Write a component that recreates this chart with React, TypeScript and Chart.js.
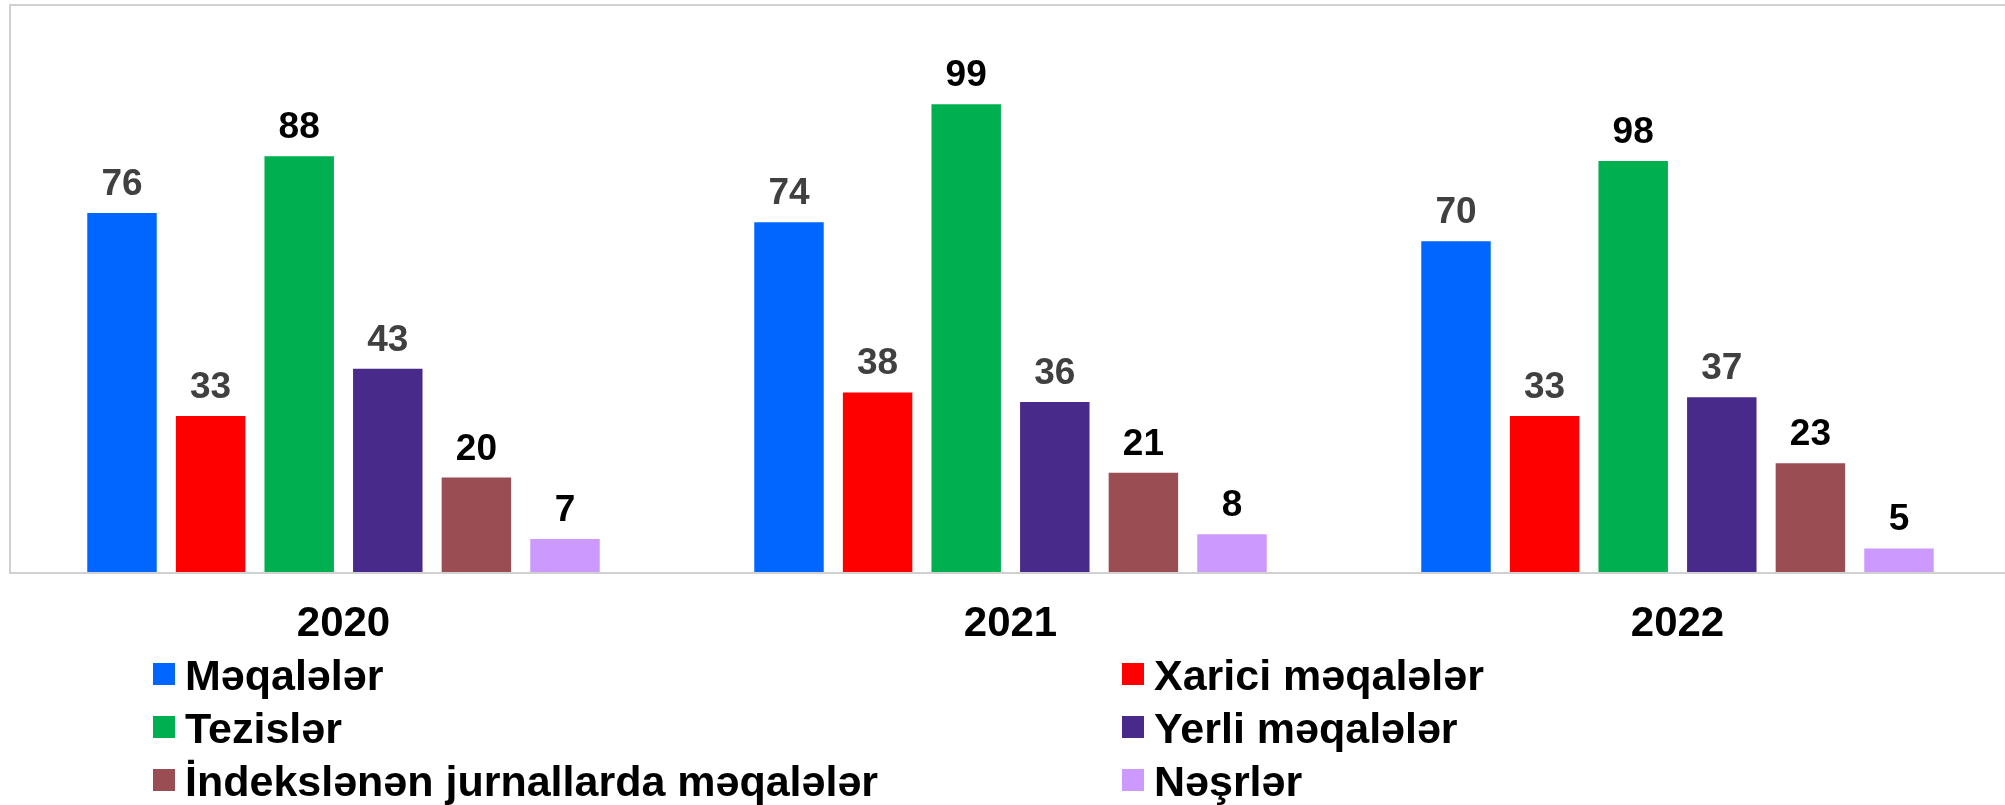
import React, { useEffect, useRef } from "react";
import { Chart, registerables } from "chart.js";

Chart.register(...registerables);

// ---- data ----
const years = ["2020", "2021", "2022"];
const seriesNames = [
  "Məqalələr",
  "Xarici məqalələr",
  "Tezislər",
  "Yerli məqalələr",
  "İndekslənən jurnallarda məqalələr",
  "Nəşrlər",
];
const meqaleler = [76, 74, 70];
const xariciMeqaleler = [33, 38, 33];
const tezisler = [88, 99, 87]; // bar heights as drawn in the picture
const tezislerShown = ["88", "99", "98"]; // value labels as printed in the picture
const yerliMeqaleler = [43, 36, 37];
const indekslenen = [20, 21, 23];
const nesrler = [7, 8, 5];
const yMin = 0;
const yMax = 120;

// ---- styles ----
const barColors = ["#0066FF", "#FF0000", "#00B050", "#472A8A", "#9A4D52", "#CC99FF"];
const labelColors = ["#404040", "#404040", "#000000", "#404040", "#000000", "#000000"];
const FONT = "'Liberation Sans', Arial, Helvetica, sans-serif";

const CANVAS_W = 2020;
const CANVAS_H = 805;

const framePlugin = {
  id: "frame",
  beforeDatasetsDraw(chart: any) {
    const { ctx, chartArea } = chart;
    ctx.save();
    ctx.strokeStyle = "#D0D0D0";
    ctx.lineWidth = 2;
    ctx.strokeRect(chartArea.left, chartArea.top, chartArea.right - chartArea.left, chartArea.bottom - chartArea.top + 1);
    ctx.restore();
  },
};

const valueLabelPlugin = {
  id: "valueLabels",
  afterDatasetsDraw(chart: any) {
    const { ctx } = chart;
    ctx.save();
    ctx.font = `bold 37px ${FONT}`;
    ctx.textAlign = "center";
    ctx.textBaseline = "alphabetic";
    chart.data.datasets.forEach((ds: any, i: number) => {
      const meta = chart.getDatasetMeta(i);
      meta.data.forEach((bar: any, j: number) => {
        const txt = ds.shownLabels ? ds.shownLabels[j] : String(ds.data[j]);
        ctx.fillStyle = ds.labelColor;
        ctx.fillText(txt, bar.x, bar.y - 18);
      });
    });
    ctx.restore();
  },
};

const legendPlugin = {
  id: "customLegend",
  afterDraw(chart: any) {
    const { ctx } = chart;
    const colX = [153, 1122];
    const rowTop = [663, 716, 769];
    ctx.save();
    ctx.font = `bold 43px ${FONT}`;
    ctx.textAlign = "left";
    ctx.textBaseline = "alphabetic";
    chart.data.datasets.forEach((ds: any, i: number) => {
      const x = colX[i % 2];
      const y = rowTop[Math.floor(i / 2)];
      ctx.fillStyle = ds.backgroundColor;
      ctx.fillRect(x, y, 22, 22);
      ctx.fillStyle = "#000000";
      ctx.fillText(ds.label, x + 32, y + 27);
    });
    ctx.restore();
  },
};

export default function App() {
  const canvasRef = useRef<HTMLCanvasElement | null>(null);

  useEffect(() => {
    if (!canvasRef.current) return;
    const seriesValues = [meqaleler, xariciMeqaleler, tezisler, yerliMeqaleler, indekslenen, nesrler];
    const datasets = seriesNames.map((name, i) => ({
      label: name,
      data: seriesValues[i],
      backgroundColor: barColors[i],
      borderWidth: 0,
      labelColor: labelColors[i],
      shownLabels: i === 2 ? tezislerShown : undefined,
    }));

    const chart = new Chart(canvasRef.current, {
      type: "bar",
      data: { labels: years, datasets: datasets as any },
      options: {
        animation: false,
        responsive: false,
        maintainAspectRatio: false,
        devicePixelRatio: 1,
        layout: { padding: { left: 10, right: CANVAS_W - 2011, top: 5, bottom: 0 } },
        datasets: {
          bar: { categoryPercentage: 0.797, barPercentage: 0.784 },
        },
        plugins: {
          legend: { display: false },
          tooltip: { enabled: false },
          title: { display: false },
        },
        scales: {
          x: {
            grid: { display: false, drawTicks: false },
            border: { display: false },
            ticks: {
              color: "#000000",
              padding: 27,
              font: { family: FONT, size: 42, weight: "bold" },
            },
            afterFit(scale: any) {
              scale.height = CANVAS_H - 572;
            },
          },
          y: {
            display: false,
            min: yMin,
            max: yMax,
          },
        },
      } as any,
      plugins: [framePlugin, valueLabelPlugin, legendPlugin],
    });
    return () => chart.destroy();
  }, []);

  return (
    <div
      style={{
        position: "absolute",
        left: 0,
        top: 0,
        width: 2005,
        height: 805,
        overflow: "hidden",
        background: "#FFFFFF",
      }}
    >
      <canvas
        ref={canvasRef}
        width={CANVAS_W}
        height={CANVAS_H}
        style={{ width: CANVAS_W, height: CANVAS_H, display: "block" }}
      />
    </div>
  );
}
